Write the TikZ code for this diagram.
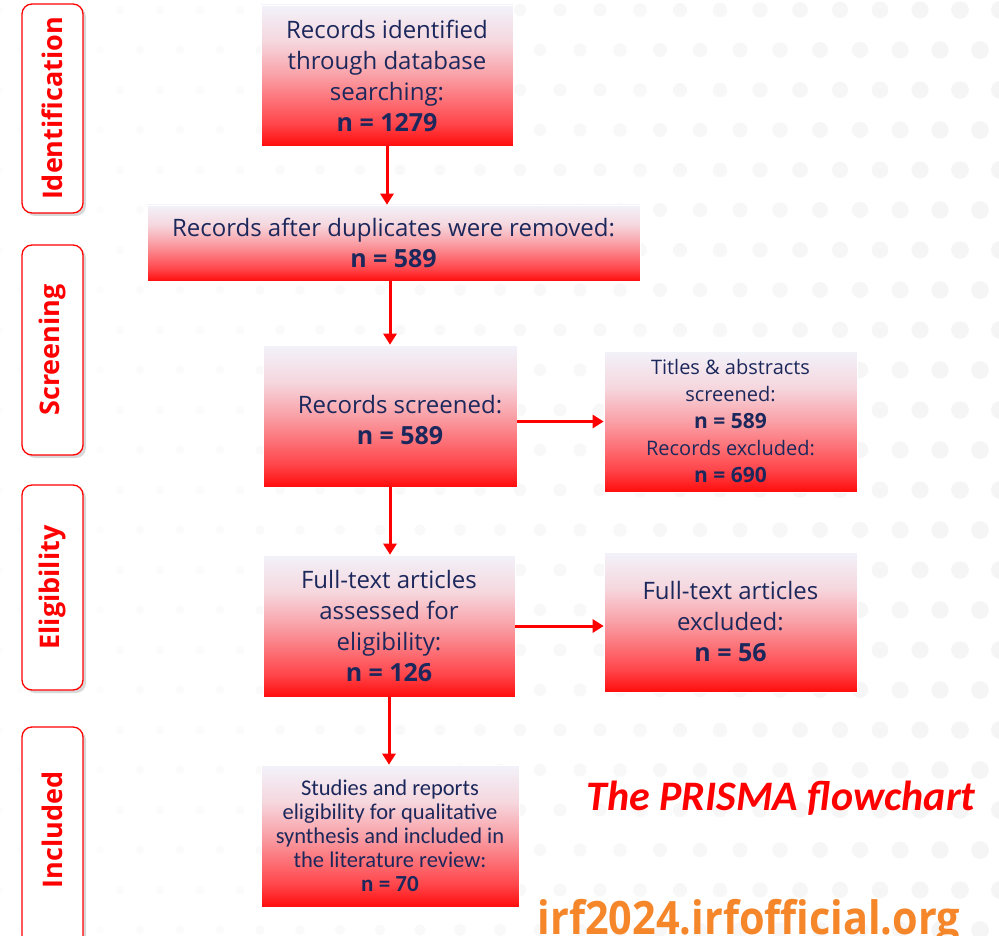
\documentclass[tikz,border=0pt]{standalone}
\usepackage{fontspec}
\setmainfont{Open Sans}
\newfontfamily\carl{Carlito}
\usetikzlibrary{arrows.meta,shadows,calc}
\definecolor{navy}{RGB}{28,40,92}
\definecolor{orng}{RGB}{245,134,42}
\definecolor{shA}{RGB}{255,12,12}
\definecolor{shB}{RGB}{255,70,75}
\definecolor{shC}{RGB}{249,160,166}
\definecolor{shD}{RGB}{246,215,222}
\definecolor{shE}{RGB}{242,242,250}
\pgfdeclareverticalshading{boxshade}{100bp}{color(0bp)=(shA); color(25bp)=(shA); color(33bp)=(shB); color(50bp)=(shC); color(62bp)=(shD); color(75bp)=(shE); color(100bp)=(shE)}
\tikzset{
  flowbox/.style={shading=boxshade, draw=white, line width=0.6pt, text=navy, align=center, inner sep=0pt},
  bigtxt/.style={font=\fontsize{24}{31}\selectfont},
  midtxt/.style={font=\fontsize{20}{27}\selectfont},
  smalltxt/.style={font=\carl\fontsize{22.5}{24}\selectfont},
  labbox/.style={draw=red, line width=1.3pt, fill=white, rounded corners=10pt, rotate=90,
     minimum height=61pt, inner sep=0pt,
     drop shadow={shadow xshift=3pt, shadow yshift=-3pt, opacity=0.3, fill=gray}},
  labtxt/.style={text=red, rotate=90, font=\bfseries\fontsize{27}{30}\selectfont},
  flowarrow/.style={draw=red, line width=3pt, -{Triangle[width=13pt,length=11pt]}}
}
\newcommand{\nb}[2]{{\bfseries\fontsize{#1}{#1}\selectfont #2}}
\begin{document}
\begin{tikzpicture}[x=1pt,y=-1pt]
\useasboundingbox (0,0) rectangle (999,936);
\fill[white] (0,0) rectangle (999,936);
% background dots
\foreach \i in {0,...,25} {
  \foreach \j in {0,...,24} {
    \pgfmathsetmacro\xx{\i*40 + mod(\j,2)*20}
    \pgfmathsetmacro\yy{\j*40+10}
    \pgfmathsetmacro\gg{1+3*\xx/999}
    \pgfmathsetmacro\rr{3+6*\xx/999}
    \fill[black!\gg] (\xx,\yy) circle[radius=\rr];
  }
}
% stage labels
\node[labbox, minimum width=209pt] (l1) at (52.5,108.5) {};
\node[labtxt] (t1) at (l1.center) {Identification};
\node[labbox, minimum width=210pt] (l2) at (52.5,350) {};
\node[labtxt] (t2) at (l2.center) {Screening};
\node[labbox, minimum width=205pt] (l3) at (52.5,587.5) {};
\node[labtxt] (t3) at (l3.center) {Eligibility};
\node[labbox, minimum width=240pt] (l4) at (52.5,847) {};
\node[labtxt] (t4) at (52.5,830) {Included};
% flow boxes
\node[flowbox, bigtxt, minimum width=252pt, minimum height=141pt] (b1) at (387,75.5)
  {Records identified\\through database\\searching:\\\nb{25}{n = 1279}};
\node[flowbox, bigtxt, minimum width=493pt, minimum height=76pt] (b2) at (393.5,243)
  {Records after duplicates were removed:\\\nb{25}{n = 589}};
\node[flowbox, minimum width=254pt, minimum height=142pt] (b3) at (390,416) {};
\node[bigtxt, text=navy, align=center] (t3b) at ($(b3.center)+(10,4)$)
  {Records screened:\\\nb{25}{n = 589}};
\node[flowbox, midtxt, minimum width=253pt, minimum height=141pt] (b4) at (730.5,421.5)
  {Titles \& abstracts\\screened:\\\nb{21}{n = 589}\\Records excluded:\\\nb{21}{n = 690}};
\node[flowbox, bigtxt, minimum width=252pt, minimum height=142pt] (b5) at (389,626)
  {Full-text articles\\assessed for\\eligibility:\\\nb{25}{n = 126}};
\node[flowbox, bigtxt, minimum width=253pt, minimum height=140pt] (b6) at (730.5,622)
  {Full-text articles\\excluded:\\\nb{25}{n = 56}};
\node[flowbox, smalltxt, minimum width=258pt, minimum height=142pt] (b7) at (390,836)
  {Studies and reports\\eligibility for qualitative\\synthesis and included in\\the literature review:\\\nb{23}{n = 70}};
% arrows
\draw[flowarrow] (b1.south) -- (b1.south |- b2.north);
\draw[flowarrow] (b3.north |- b2.south) -- (b3.north);
\draw[flowarrow] (b3.south) -- (b3.south |- b5.north);
\draw[flowarrow] (b5.south) -- (b5.south |- b7.north);
\draw[flowarrow] (b3.east |- b4.west) -- (b4.west);
\draw[flowarrow] (b5.east) -- (b5.east -| b6.west);
% titles
\node[anchor=base, text=red, font=\carl\bfseries\itshape\fontsize{42}{48}\selectfont] (title) at (781,810) {The PRISMA flowchart};
\node[anchor=base, text=orng, font=\bfseries\fontsize{46}{50}\selectfont] (site) at (749,934) {\scalebox{0.9}[1]{irf2024.irfofficial.org}};
\end{tikzpicture}
\end{document}
